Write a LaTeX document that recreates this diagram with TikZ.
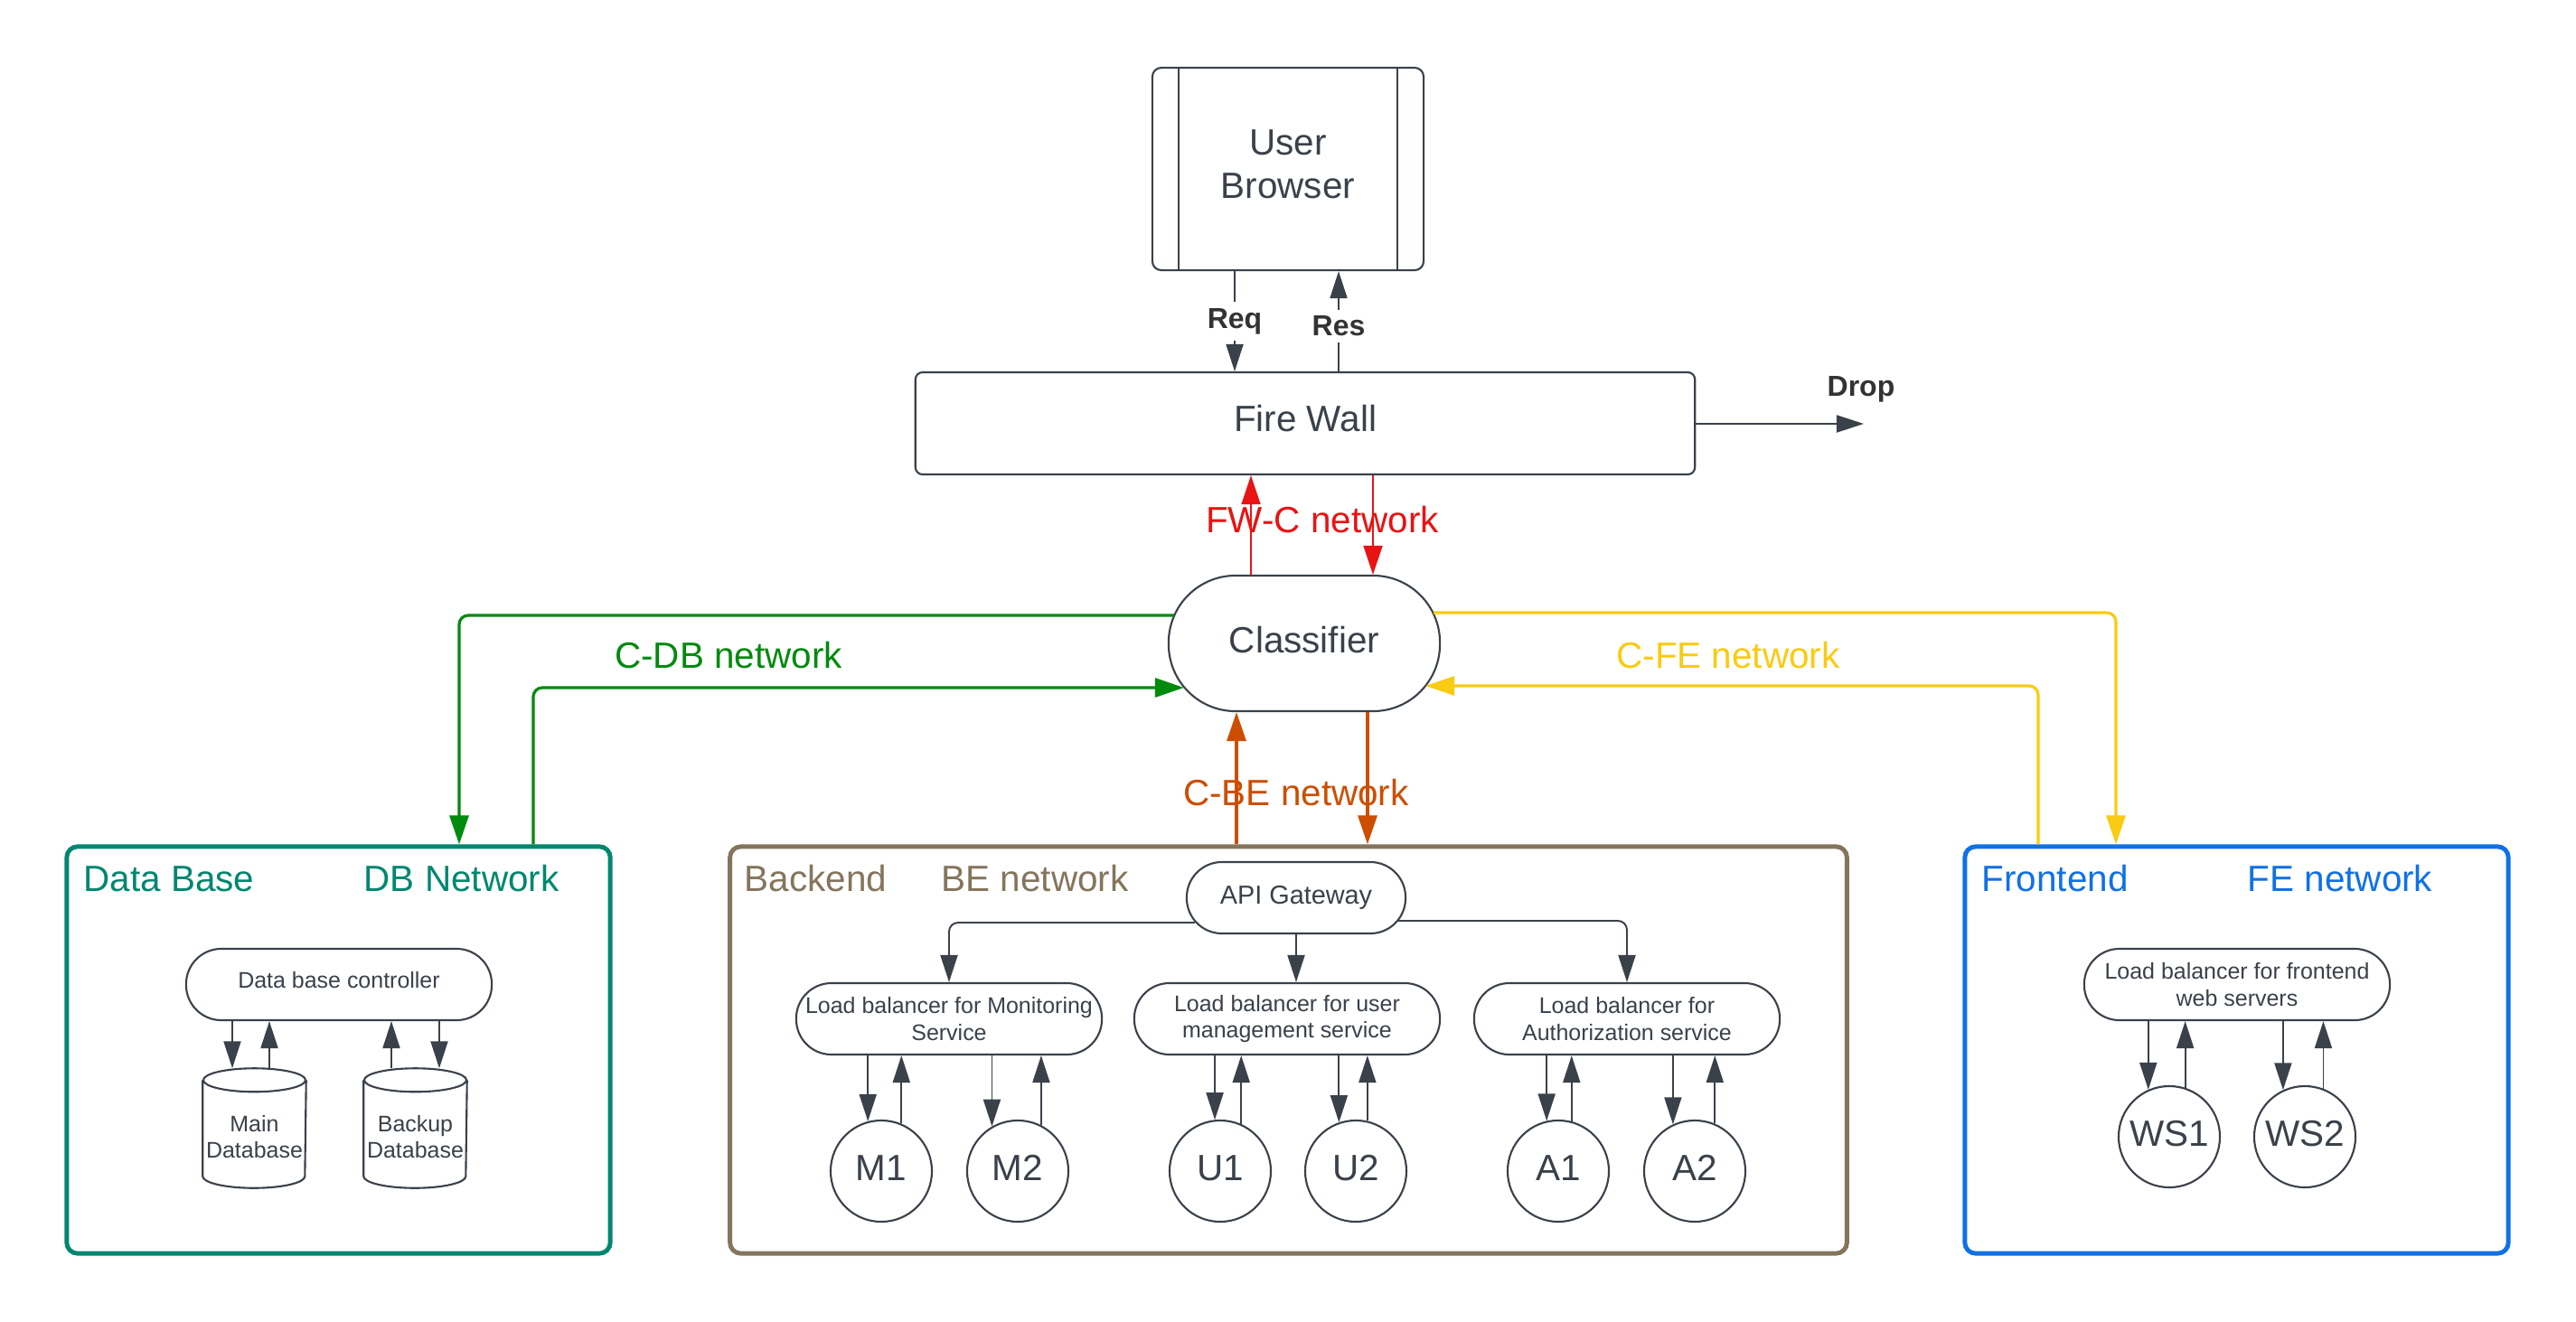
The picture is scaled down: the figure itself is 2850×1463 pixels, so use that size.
\documentclass[tikz,border=0pt]{standalone}
\usepackage{fontspec}
\setmainfont{Liberation Sans}
\usetikzlibrary{arrows.meta,calc}
\definecolor{darkc}{HTML}{3A414A}
\definecolor{textc}{HTML}{333333}
\definecolor{dbteal}{HTML}{00876F}
\definecolor{grn}{HTML}{008A0E}
\definecolor{brownc}{RGB}{132,117,92}
\definecolor{bluec}{HTML}{1071E5}
\definecolor{yel}{HTML}{F9CB12}
\definecolor{redc}{HTML}{E81313}
\definecolor{orng}{HTML}{CC4E00}
\newcommand\FBig{\fontsize{11.5pt}{13.8pt}\selectfont}
\newcommand\FSmall{\fontsize{7.1pt}{8.3pt}\selectfont}
\newcommand\FApi{\fontsize{8.2pt}{9.8pt}\selectfont}
\newcommand\FBold{\fontsize{9.1pt}{11pt}\selectfont\bfseries}
\begin{document}
\begin{tikzpicture}[x=0.01cm,y=-0.01cm,
 box/.style={draw=darkc, line width=0.6pt, fill=white, text=darkc, inner sep=0pt},
 bigbox/.style={box, font=\FBig, align=center, rounded corners=0.08cm, text depth=0.3em},
 pill/.style={box, font=\FSmall, align=center, rounded corners=0.39cm, minimum height=0.79cm, minimum width=3.38cm},
 srv/.style={box, circle, minimum size=1.12cm, font=\FBig, text depth=0.22em},
 grp/.style={draw, line width=1.4pt, rounded corners=0.12cm, minimum width=6.01cm, minimum height=4.5cm, inner sep=0pt},
 grouplabel/.style={anchor=base west, font=\FBig, inner sep=0pt},
 netlabel/.style={font=\FBig, inner sep=0pt},
 cylframe/.style={inner sep=0pt, minimum width=1.13cm, minimum height=1.31cm},
 cylline/.style={draw=darkc, line width=0.6pt},
 dbtext/.style={font=\FSmall, align=center, text=darkc, inner sep=0pt},
 darr/.style={draw=darkc, line width=0.55pt, -{Triangle[length=0.3cm, width=0.19cm]}},
 carr/.style={line width=0.9pt, -{Triangle[length=0.32cm, width=0.21cm]}, rounded corners=0.1cm},
]
\fill[white] (0,0) rectangle (2850,1463);
\useasboundingbox (0,0) rectangle (2850,1463);

% ---------- top ----------
\node[bigbox, minimum width=3cm, minimum height=2.24cm, rounded corners=0.1cm] (ub) at (1425,187) {User\\Browser};
\draw[darkc, line width=0.6pt] ([xshift=0.3cm]ub.north west) -- ([xshift=0.3cm]ub.south west);
\draw[darkc, line width=0.6pt] ([xshift=-0.3cm]ub.north east) -- ([xshift=-0.3cm]ub.south east);

\node[bigbox, minimum width=8.62cm, minimum height=1.13cm] (fw) at (1444,468.5) {Fire Wall};

\draw[darr] (ub.south -| 1366,0) -- node[pos=0.5, fill=white, font=\FBold, text=textc, inner sep=2pt] (req) {Req} (fw.north -| 1366,0);
\draw[darr] (fw.north -| 1481,0) -- node[pos=0.45, fill=white, font=\FBold, text=textc, inner sep=2pt] (res) {Res} (ub.south -| 1481,0);

\coordinate (dropend) at (2062,469);
\draw[darr] (fw.east |- dropend) -- (dropend);
\node[font=\FBold, text=textc, inner sep=0pt] (drop) at (2059,431) {Drop};

\node[box, font=\FBig, minimum width=3cm, minimum height=1.5cm, rounded corners=0.74cm, text depth=0.22em] (cls) at (1443,712) {Classifier};

% ---------- containers ----------
\node[grp, draw=dbteal] (dbbox) at (374.5,1162) {};
\node[grp, draw=brownc, minimum width=12.35cm] (bebox) at (1425.5,1162) {};
\node[grp, draw=bluec] (febox) at (2474.5,1162) {};

\node[grouplabel, text=dbteal] (dbl) at (92,986) {Data Base};
\node[grouplabel, text=dbteal] (dbnl) at (402,986) {DB Network};
\node[grouplabel, text=brownc] (bel) at (823,986) {Backend};
\node[grouplabel, text=brownc] (benl) at (1041,986) {BE network};
\node[grouplabel, text=bluec] (fel) at (2192,986) {Frontend};
\node[grouplabel, text=bluec] (fenl) at (2486,986) {FE network};

% ---------- network connectors ----------
\draw[carr, redc, line width=0.45pt] (cls.north -| 1384,0) -- (fw.south -| 1384,0);
\draw[carr, redc, line width=0.45pt] (fw.south -| 1519,0) -- (cls.north -| 1519,0);
\node[netlabel, text=redc] (fwcl) at (1463,575) {FW-C network};

\draw[carr, grn] ($(cls.west |- 0,681)+(7,0)$) -| (dbbox.north -| 508,0);
\draw[carr, grn] (dbbox.north -| 590,0) |- ($(cls.west |- 0,761)+(18,0)$);
\node[netlabel, text=grn] (cdbl) at (806,725) {C-DB network};

\draw[carr, yel] ($(cls.east |- 0,678)+(-8,0)$) -| (febox.north -| 2341,0);
\draw[carr, yel] (febox.north -| 2255,0) |- ($(cls.east |- 0,759)+(-17,0)$);
\node[netlabel, text=yel] (cfel) at (1912,725) {C-FE network};

\draw[carr, orng] (bebox.north -| 1368,0) -- (cls.south -| 1368,0);
\draw[carr, orng] (cls.south -| 1513,0) -- (bebox.north -| 1513,0);
\node[netlabel, text=orng] (cbel) at (1434,877) {C-BE network};

% ---------- database ----------
\node[pill, text depth=0.3em] (dbc) at (375,1089.5) {Data base controller};
\node[cylframe] (mdb) at (281.5,1248.5) {};
\node[cylframe] (bdb) at (459.5,1248.5) {};
\foreach \c in {mdb,bdb}{
  \draw[cylline] ([yshift=-0.13cm]\c.north west) -- ([yshift=0.13cm]\c.south west)
     arc[start angle=180, end angle=360, x radius=0.565cm, y radius=0.13cm]
     -- ([yshift=-0.13cm]\c.north east);
  \draw[cylline] ([yshift=-0.13cm]\c.north) ellipse [x radius=0.565cm, y radius=0.13cm];
}
\node[dbtext] (mdbt) at (281.5,1258) {Main\\Database};
\node[dbtext] (bdbt) at (459.5,1258) {Backup\\Database};
\draw[darr] (dbc.south -| 257,0) -- (mdb.north -| 257,0);
\draw[darr] (mdb.north -| 298,0) -- (dbc.south -| 298,0);
\draw[darr] (bdb.north -| 433,0) -- (dbc.south -| 433,0);
\draw[darr] (dbc.south -| 486,0) -- (bdb.north -| 486,0);

% ---------- backend ----------
\node[pill, font=\FApi, minimum width=2.42cm] (api) at (1434,993.5) {API Gateway};
\node[pill] (lbm) at (1050,1127.5) {Load balancer for Monitoring\\Service};
\node[pill] (lbu) at (1424,1127.5) {Load balancer for user\\management service};
\node[pill] (lba) at (1800,1127.5) {Load balancer for\\Authorization service};

\draw[darr, rounded corners=0.1cm] ($(api.west |- 0,1021)+(10,0)$) -| (lbm.north);
\draw[darr] (api.south) -- (api.south |- lbu.north);
\draw[darr, rounded corners=0.1cm] ($(api.east |- 0,1019)+(-10,0)$) -| (lba.north);

\node[srv] (m1) at (975,1296) {M1};
\node[srv] (m2) at (1126,1296) {M2};
\node[srv] (u1) at (1350,1296) {U1};
\node[srv] (u2) at (1500,1296) {U2};
\node[srv] (a1) at (1724,1296) {A1};
\node[srv] (a2) at (1875,1296) {A2};

\draw[darr] (lbm.south -| m1.105) -- (m1.105);
\draw[darr] (m1.67) -- (lbm.south -| m1.67);
\draw[darr] (lbm.south -| m2.120) -- (m2.120);
\draw[darr] (m2.63) -- (lbm.south -| m2.63);
\draw[darr] (lbu.south -| u1.96) -- (u1.96);
\draw[darr] (u1.66) -- (lbu.south -| u1.66);
\draw[darr] (lbu.south -| u2.109) -- (u2.109);
\draw[darr] (u2.77) -- (lbu.south -| u2.77);
\draw[darr] (lba.south -| a1.103) -- (a1.103);
\draw[darr] (a1.75) -- (lba.south -| a1.75);
\draw[darr] (lba.south -| a2.115) -- (a2.115);
\draw[darr] (a2.67) -- (lba.south -| a2.67);

% ---------- frontend ----------
\node[pill] (lbf) at (2475,1089.5) {Load balancer for frontend\\web servers};
\node[srv] (ws1) at (2400,1258) {WS1};
\node[srv] (ws2) at (2550,1258) {WS2};
\draw[darr] (lbf.south -| ws1.114) -- (ws1.114);
\draw[darr] (ws1.72) -- (lbf.south -| ws1.72);
\draw[darr] (lbf.south -| ws2.115) -- (ws2.115);
\draw[darr] (ws2.69) -- (lbf.south -| ws2.69);
\end{tikzpicture}
\end{document}
